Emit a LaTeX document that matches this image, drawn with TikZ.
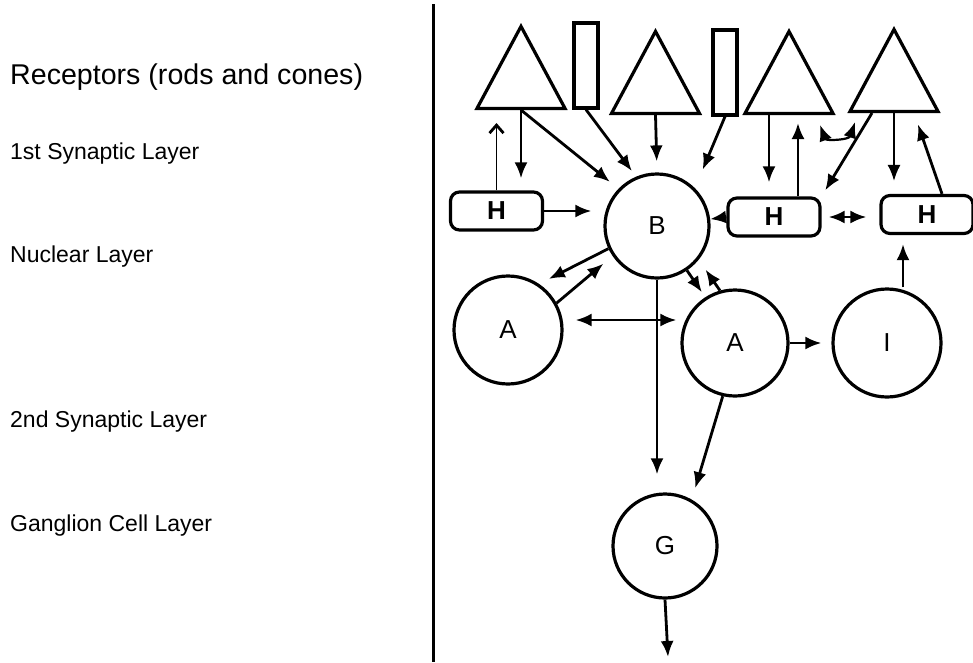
\documentclass[tikz,border=0pt]{standalone}
\usepackage{fontspec}
\setmainfont{Liberation Sans}
\usetikzlibrary{arrows.meta,shapes.geometric}

\begin{document}
\begin{tikzpicture}
[x=1pt,y=-1pt,
  layerdecorate/.style={anchor=base west,inner sep=0pt,font=\fontsize{23}{28}\selectfont},
  celldecorate/.style={shape=circle,draw,line width=3.2pt,minimum size=#1,inner sep=0pt,font=\fontsize{26}{30}\selectfont},
  conedecorate/.style={shape=isosceles triangle,shape border rotate=90,isosceles triangle stretches,draw,line width=3.2pt,minimum width=88pt,minimum height=82pt,inner sep=0pt},
  roddecorate/.style={shape=rectangle,draw,line width=3.2pt,minimum width=24pt,minimum height=85pt,inner sep=0pt},
  hdecorate/.style={shape=rectangle,rounded corners=9pt,draw,line width=3.2pt,minimum width=92pt,minimum height=38pt,inner sep=0pt,font=\fontsize{26}{30}\selectfont\bfseries},
  linedecorate/.style={-{Latex[length=16pt,width=13pt]},line width=2.8pt},
  thindecorate/.style={-{Latex[length=16pt,width=13pt]},line width=1.8pt},
  opendecorate/.style={-{Straight Barb[length=8pt,width=14pt,line width=2.8pt]},line width=1.8pt},
  bothdecorate/.style={{Latex[length=16pt,width=13pt]}-{Latex[length=16pt,width=13pt]},line width=2.8pt}]
\useasboundingbox (0,0) rectangle (973,662);
%% layer names
\node (receptors) at (10,84) [layerdecorate,font=\fontsize{28.6}{34}\selectfont] {Receptors (rods and cones)};
\foreach \nodename/\y/\txt in {synapse1/159/1st Synaptic Layer, nuclear/262/Nuclear Layer, synapse2/427/2nd Synaptic Layer, ganglion/531/Ganglion Cell Layer} {
  \node (\nodename) at (10,\y) [layerdecorate] {\txt};
}
\draw[line width=2.6pt] (433.5,4) -- (433.5,662);
%% cones and rods
\foreach \nodename/\x/\y in {cone1/521/110, cone2/655.5/115, cone3/789/115, cone4/894/113} {
  \node (\nodename) at (\x,\y) [conedecorate,anchor=south] {};
}
\foreach \nodename/\x/\y in {rod1/586/65.5, rod2/725/72.5} {
  \node (\nodename) at (\x,\y) [roddecorate] {};
}
%% horizontal cells
\foreach \nodename/\x/\y in {H1/496.5/211, H2/774/217, H3/927/214.5} {
  \node (\nodename) at (\x,\y) [hdecorate] {H};
}
%% bipolar, amacrine, interplexiform and ganglion cells
\foreach \nodename/\txt/\x/\y/\d in {B/B/657/226/104, A1/A/508/330/108, A2/A/735/343/106, I/I/887/343/108, G/G/665/546/104} {
  \node (\nodename) at (\x,\y) [celldecorate=\d pt] {\txt};
}
%% edges
\path
\foreach \startnode/\endnode/\gap in {cone1.south/B.136/11, rod1.south/B.113/7, cone2.south/B.north/11, rod2.south/B.45/20, H2.west/B/0, B.205/A1.56/11, A1.29/B.214/12, B.304/A2.123/6, A2.106/B.321/12, A2.257/G.60/12} {
  (\startnode) edge[linedecorate,shorten >=\gap pt] (\endnode)
};
\draw[opendecorate,shorten >=13pt] (H1.north) -- (H1.north |- cone1.south);
\draw[linedecorate,shorten >=12pt] (cone1.south) -- (cone1.south |- H1.north);
\draw[linedecorate,shorten >=12pt] (H1.east) -- (H1.east -| B.west);
\draw[linedecorate,shorten >=14pt] ([xshift=-20pt]cone3.south) -- ([xshift=-20pt]cone3.south |- H2.north);
\draw[linedecorate,shorten >=8pt] ([xshift=24pt]H2.north) -- ([xshift=24pt]H2.north |- cone3.south);
\draw[bothdecorate,line width=2.2pt] ([xshift=31pt,yshift=-10pt]cone3.south) .. controls +(6,16) and +(-6,18) .. ([xshift=-39pt,yshift=-9pt]cone4.south);
\draw[linedecorate,shorten >=7pt] ([xshift=-22pt]cone4.south) -- (H2.north east);
\draw[thindecorate,shorten >=13pt] (cone4.south) -- (cone4.south |- H3.north);
\draw[linedecorate,shorten >=12pt] ([xshift=15pt]H3.north) -- ([xshift=20pt]cone4.south);
\draw[bothdecorate,shorten <=7pt,shorten >=13pt] (H2.east) -- (H2.east -| H3.west);
\draw[bothdecorate,shorten <=12pt,shorten >=4pt] ([yshift=10pt]A1.east) -- ([yshift=10pt]A1.east -| A2.west);
\draw[linedecorate,shorten >=18pt] (B.south) -- (B.south |- G.north);
\draw[linedecorate,shorten >=10pt] (A2.east) -- (I.west);
\draw[linedecorate,shorten >=9pt] ([xshift=16pt]I.north) -- ([xshift=16pt]I.north |- H3.south);
\coordinate (axon) at (668,657);
\draw[linedecorate] (G.south) -- (axon);
\end{tikzpicture}
\end{document}
